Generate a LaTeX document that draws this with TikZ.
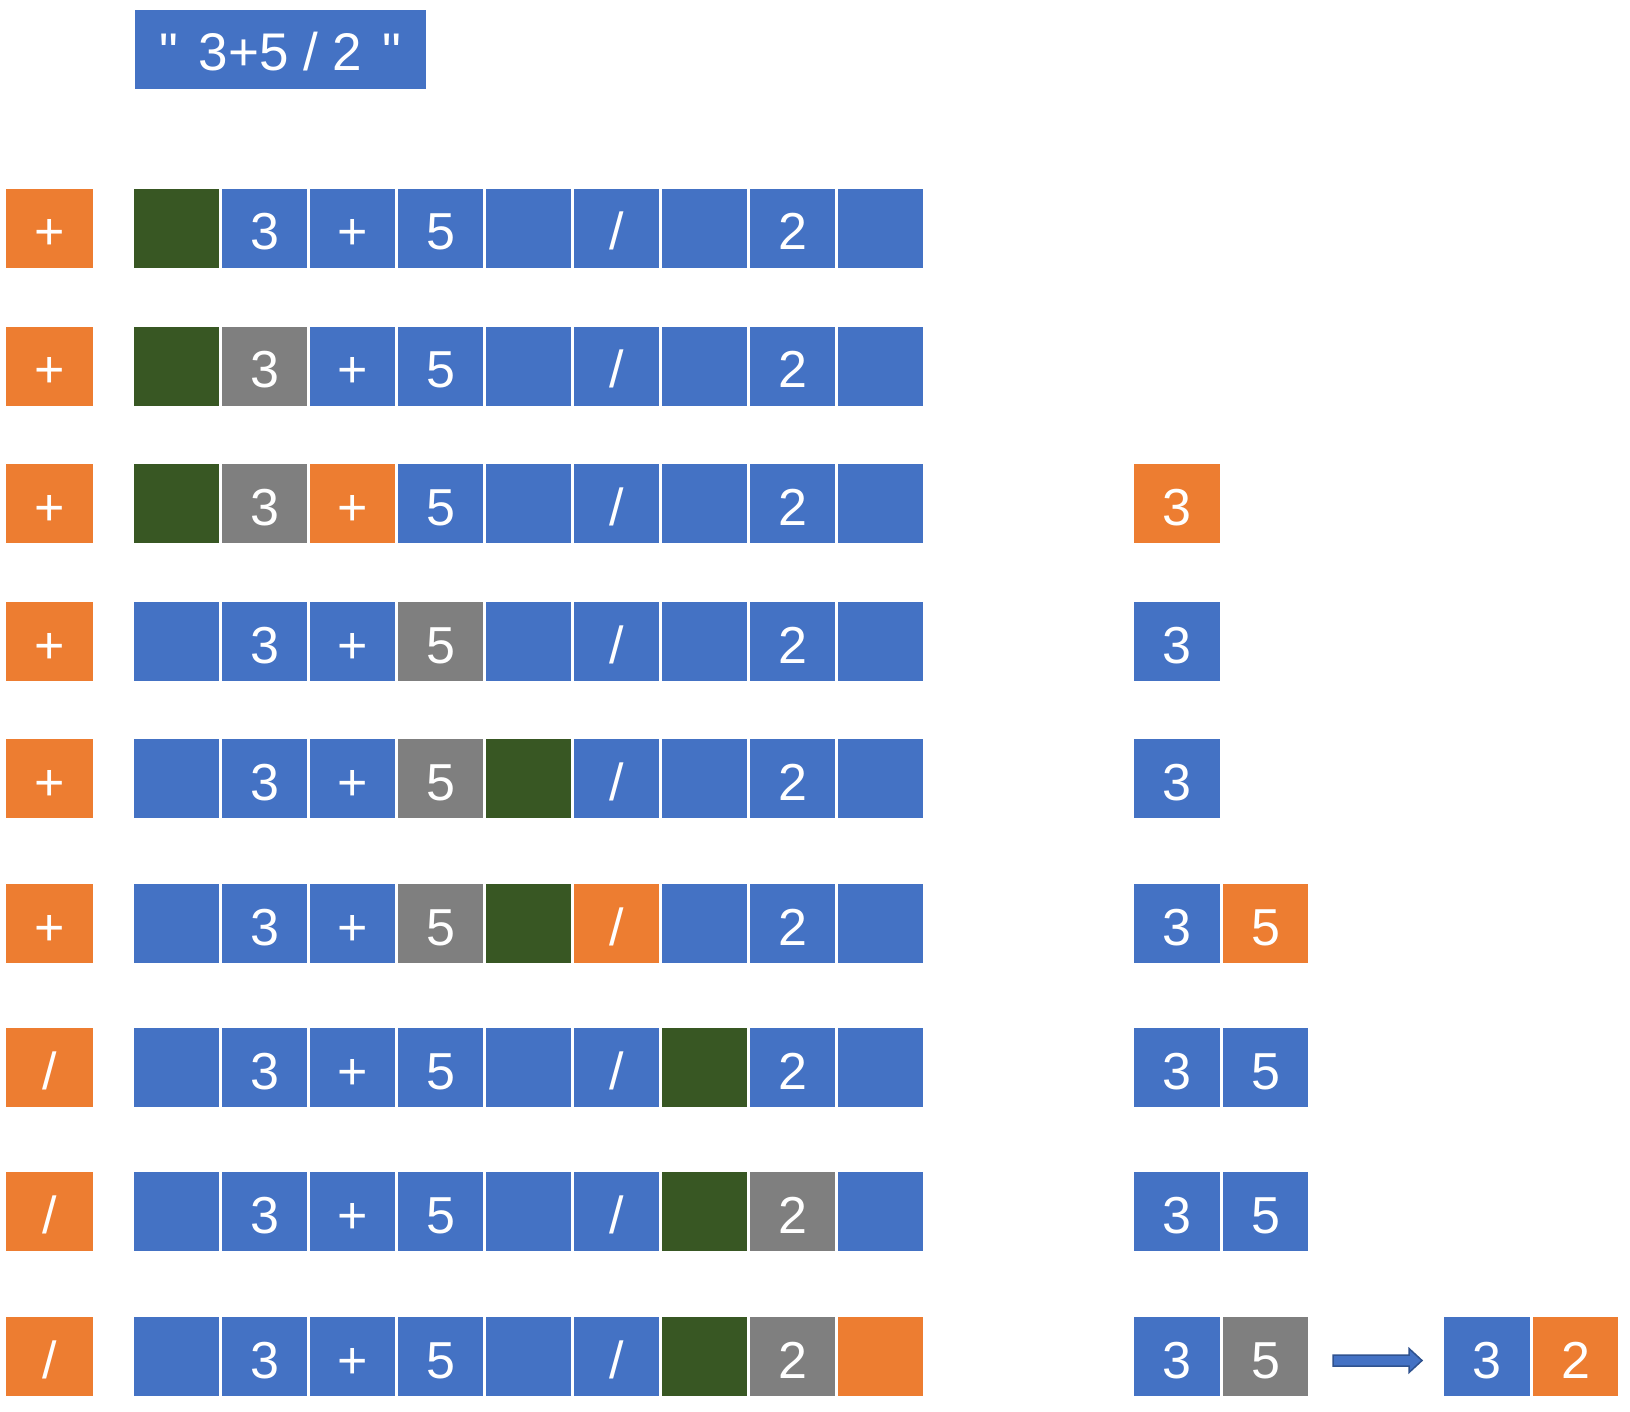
\documentclass[tikz,border=0pt]{standalone}
\usepackage{fontspec}
\setmainfont{Liberation Sans}
\newfontfamily\qfont{Liberation Sans}[Ligatures=TeXOff]
\usetikzlibrary{calc}
\definecolor{blu}{HTML}{4472C4}
\definecolor{org}{HTML}{ED7D31}
\definecolor{gry}{HTML}{7F7F7F}
\definecolor{grn}{HTML}{385723}
\definecolor{arrline}{HTML}{2F528F}
\newcommand\slh{/}
\tikzset{
  cell/.style={fill=#1, minimum width=85pt, minimum height=79pt, inner sep=0pt, outer sep=0pt,
    text=white, font=\fontsize{52}{52}\selectfont, text height=43pt, text depth=0pt, anchor=north west},
  opcell/.style={cell=org, minimum width=87pt},
  rcell/.style={cell=#1, minimum width=86pt},
}
\newcommand\rowcells[3]{%
  \foreach[count=\i from 0] \c/\t in {#3} {\node[cell=\c] (#1-\i) at ({134+88*\i}, #2) {\t};}}
\begin{document}
\begin{tikzpicture}[x=1pt,y=-1pt]
\useasboundingbox (0,0) rectangle (1630,1412);
\node[cell=blu, minimum width=291pt, font=\qfont\fontsize{53}{53}\selectfont] (title) at (135,10)
  {"\hspace{20pt}3+5 / 2\hspace{20pt}"};
% row 1
\node[opcell] (op1) at (6,189) {+};
\rowcells{r1}{189}{grn/{},blu/3,blu/+,blu/5,blu/{},blu/\slh,blu/{},blu/2,blu/{}}
% row 2
\node[opcell] (op2) at (6,327) {+};
\rowcells{r2}{327}{grn/{},gry/3,blu/+,blu/5,blu/{},blu/\slh,blu/{},blu/2,blu/{}}
% row 3
\node[opcell] (op3) at (6,464) {+};
\rowcells{r3}{464}{grn/{},gry/3,org/+,blu/5,blu/{},blu/\slh,blu/{},blu/2,blu/{}}
\node[rcell=org] (s3a) at (1134,464) {3};
% row 4
\node[opcell] (op4) at (6,602) {+};
\rowcells{r4}{602}{blu/{},blu/3,blu/+,gry/5,blu/{},blu/\slh,blu/{},blu/2,blu/{}}
\node[rcell=blu] (s4a) at (1134,602) {3};
% row 5
\node[opcell] (op5) at (6,739) {+};
\rowcells{r5}{739}{blu/{},blu/3,blu/+,gry/5,grn/{},blu/\slh,blu/{},blu/2,blu/{}}
\node[rcell=blu] (s5a) at (1134,739) {3};
% row 6
\node[opcell] (op6) at (6,884) {+};
\rowcells{r6}{884}{blu/{},blu/3,blu/+,gry/5,grn/{},org/\slh,blu/{},blu/2,blu/{}}
\node[rcell=blu] (s6a) at (1134,884) {3};
\node[cell=org] (s6b) at (1223,884) {5};
% row 7
\node[opcell] (op7) at (6,1028) {/};
\rowcells{r7}{1028}{blu/{},blu/3,blu/+,blu/5,blu/{},blu/\slh,grn/{},blu/2,blu/{}}
\node[rcell=blu] (s7a) at (1134,1028) {3};
\node[cell=blu] (s7b) at (1223,1028) {5};
% row 8
\node[opcell] (op8) at (6,1172) {/};
\rowcells{r8}{1172}{blu/{},blu/3,blu/+,blu/5,blu/{},blu/\slh,grn/{},gry/2,blu/{}}
\node[rcell=blu] (s8a) at (1134,1172) {3};
\node[cell=blu] (s8b) at (1223,1172) {5};
% row 9
\node[opcell] (op9) at (6,1317) {/};
\rowcells{r9}{1317}{blu/{},blu/3,blu/+,blu/5,blu/{},blu/\slh,grn/{},gry/2,org/{}}
\node[rcell=blu] (s9a) at (1134,1317) {3};
\node[cell=gry] (s9b) at (1223,1317) {5};
\node[rcell=blu] (f1) at (1444,1317) {3};
\node[cell=org] (f2) at (1533,1317) {2};
% block arrow
\path (s9b.east) ++(25,4) coordinate (a1);
\path (f1.west) ++(-22,4) coordinate (a2);
\draw[fill=blu, draw=arrline, line width=1.5pt, line join=miter]
  ($(a1)+(0,-5.5)$) -- ($(a2)+(-13,-5.5)$) -- ($(a2)+(-13,-12)$) -- (a2)
  -- ($(a2)+(-13,12)$) -- ($(a2)+(-13,5.5)$) -- ($(a1)+(0,5.5)$) -- cycle;
\end{tikzpicture}
\end{document}
